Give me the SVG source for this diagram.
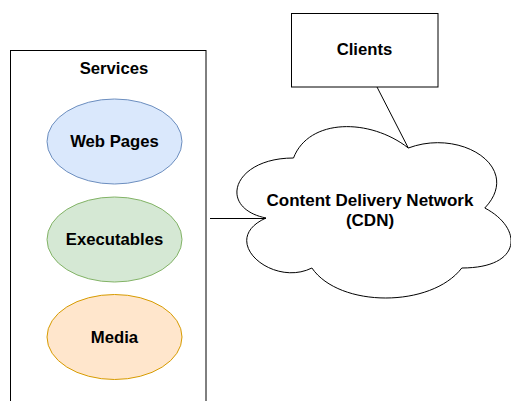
<svg xmlns="http://www.w3.org/2000/svg" width="511" height="401" viewBox="0 0 511 401">
<style>
text{font-family:"Liberation Sans",Arial,sans-serif;font-weight:bold;font-size:16.7px;fill:#000;text-anchor:middle}
.big{font-size:17px}
.box{fill:#fff;stroke:#000;stroke-width:1}
.conn{fill:none;stroke:#000;stroke-width:1}
</style>
<rect width="511" height="401" fill="#fff"/>
<g id="services">
<rect class="box" x="10.5" y="50.5" width="195.5" height="360"/>
<text x="114" y="74">Services</text>
</g>
<g id="web-pages">
<ellipse cx="114.5" cy="141.5" rx="67.5" ry="42.5" fill="#dae8fc" stroke="#6c8ebf"/>
<text x="114.5" y="147">Web Pages</text>
</g>
<g id="executables">
<ellipse cx="114.5" cy="239.5" rx="67.5" ry="42.5" fill="#d5e8d4" stroke="#82b366"/>
<text x="114.5" y="245">Executables</text>
</g>
<g id="media">
<ellipse cx="114.5" cy="337" rx="67.5" ry="42.5" fill="#ffe6cc" stroke="#d79b00"/>
<text x="114.5" y="343">Media</text>
</g>
<g id="clients">
<rect class="box" x="291.5" y="13.5" width="146.5" height="73.5"/>
<text x="364.5" y="55">Clients</text>
</g>
<g id="cdn">
<path class="box" d="M293.5,158 C232.3,158 217,208 266,218 C217,240 272.1,288 311.9,268 C339.4,308 431.2,308 461.8,268 C523,268 523,228 484.8,208 C523,168 461.8,128 408.3,148 C370,118 308.8,118 293.5,158 Z"/>
<text class="big" x="370" y="205.5">Content Delivery Network</text>
<text class="big" x="370" y="225.5">(CDN)</text>
</g>
<g id="connectors">
<path class="conn" d="M210,218.5 L266,218.5"/>
<path class="conn" d="M377,87 L408.3,148"/>
</g>
</svg>
